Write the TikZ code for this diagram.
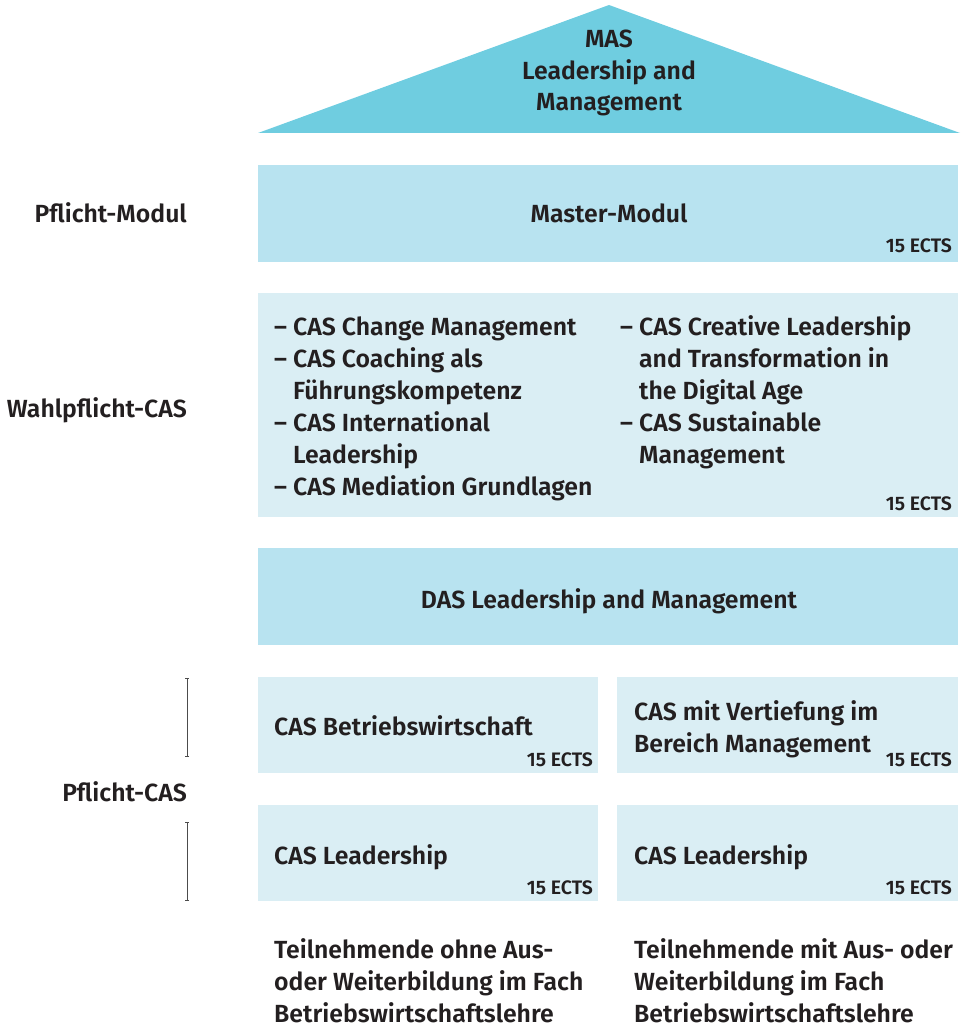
\documentclass[tikz,border=0pt]{standalone}
\usepackage{fontspec}
\setmainfont{Fira Sans}[BoldFont={* SemiBold}]
\usetikzlibrary{arrows.meta}
\definecolor{roof}{HTML}{6FCDE0}
\definecolor{midbox}{HTML}{B8E3F0}
\definecolor{lightbox}{HTML}{DAEEF4}
\definecolor{ink}{HTML}{231F20}
\begin{document}
\begin{tikzpicture}[x=1pt,y=-1pt,
  every node/.style={inner sep=0pt,text=ink,font=\bfseries\fontsize{24.8}{32}\selectfont},
  ects/.style={anchor=base east,font=\bfseries\fontsize{19.5}{22}\selectfont},
  txt/.style={anchor=base west,align=left},
  lbl/.style={anchor=base east},
  bracket/.style={draw=black!70,line width=0.9pt,{Bar[width=4pt]}-{Bar[width=4pt]}}]
\useasboundingbox (0,0) rectangle (964,1027);
% roof (base anchor of a multi-line node = baseline of its last line)
\fill[roof] (609,5) coordinate (apex) -- (258,133) -- (960,133) -- cycle;
\node[align=center,anchor=base,font=\bfseries\fontsize{24.8}{31.5}\selectfont] (mas) at (609,111) {MAS\\Leadership and\\Management};
% boxes
\fill[midbox] (258,165) rectangle (958,262);
\node[anchor=base] (master) at (609,222.5) {Master-Modul};
\node[ects] (e1) at (952,252) {15 ECTS};
\fill[lightbox] (258,293) rectangle (958,517);
\node[txt] (listA) at (274,495.5) {-- CAS Change Management\\-- CAS Coaching als\\\hphantom{-- }F\"uhrungskompetenz\\-- CAS International\\\hphantom{-- }Leadership\\-- CAS Mediation Grundlagen};
\node[txt] (listB) at (620,463.5) {-- CAS Creative Leadership\\\hphantom{-- }and Transformation in\\\hphantom{-- }the Digital Age\\-- CAS Sustainable\\\hphantom{-- }Management};
\node[ects] (e2) at (952,510) {15 ECTS};
\fill[midbox] (258,548) rectangle (958,645);
\node[anchor=base] (das) at (609,608.5) {DAS Leadership and Management};
\fill[lightbox] (258,677) rectangle (598,773);
\node[txt] (bw) at (274,735.5) {CAS Betriebswirtschaft};
\node[ects] (e3) at (593,766) {15 ECTS};
\fill[lightbox] (617,677) rectangle (958,773);
\node[txt] (vt) at (634,752.5) {CAS mit Vertiefung im\\Bereich Management};
\node[ects] (e4) at (952,766) {15 ECTS};
\fill[lightbox] (258,805) rectangle (598,901);
\node[txt] (ll) at (274,864.5) {CAS Leadership};
\node[ects] (e5) at (593,894) {15 ECTS};
\fill[lightbox] (617,805) rectangle (958,901);
\node[txt] (lr) at (634,864.5) {CAS Leadership};
\node[ects] (e6) at (952,894) {15 ECTS};
% bottom text
\node[txt] (bl) at (274,1022) {Teilnehmende ohne Aus-\\oder Weiterbildung im Fach\\Betriebswirtschaftslehre};
\node[txt] (br) at (634,1022) {Teilnehmende mit Aus- oder\\Weiterbildung im Fach\\Betriebswirtschaftslehre};
% left labels
\node[lbl] (l1) at (187,222.5) {Pflicht-Modul};
\node[lbl] (l2) at (187,417.5) {Wahlpflicht-CAS};
\node[lbl] (l3) at (187,801.5) {Pflicht-CAS};
\coordinate (b1) at (187,678);
\coordinate (b2) at (187,757);
\coordinate (b3) at (187,822);
\coordinate (b4) at (187,901);
\draw[bracket] (b1) -- (b2);
\draw[bracket] (b3) -- (b4);
\end{tikzpicture}
\end{document}
